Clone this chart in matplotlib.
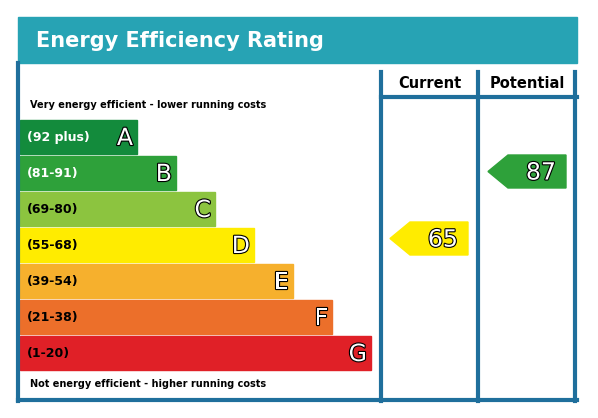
import matplotlib.pyplot as plt
from matplotlib.patches import Polygon, Rectangle
import matplotlib.patheffects as pe

letters = ['A', 'B', 'C', 'D', 'E', 'F', 'G']
ranges = ['(92 plus)', '(81-91)', '(69-80)', '(55-68)', '(39-54)', '(21-38)', '(1-20)']
lower = [92, 81, 69, 55, 39, 21, 1]
colors = ['#138b3c', '#2ea13a', '#8cc43f', '#ffec00', '#f6b02d', '#ec6f2a', '#e02027']
current = 65
potential = 87

frame = '#1f6f9c'
W, H = 598, 418

fig = plt.figure(figsize=(W / 100, H / 100), dpi=100)
ax = fig.add_axes([0, 0, 1, 1])
ax.set_xlim(0, W)
ax.set_ylim(H, 0)
ax.axis('off')

# title bar
ax.add_patch(Rectangle((18, 17), 559, 46, color='#27a3b4'))
ax.text(36, 41, 'Energy Efficiency Rating', color='white', fontsize=15,
        fontweight='bold', va='center', ha='left')

# frame lines
lw = 3
for x in [381, 478, 575]:
    ax.plot([x, x], [72, 401], color=frame, lw=lw)
ax.plot([18, 18], [63, 401], color=frame, lw=lw)
ax.plot([18, 577], [400, 400], color=frame, lw=lw)
ax.plot([381, 577], [97, 97], color=frame, lw=lw)
ax.text(430, 84, 'Current', fontsize=10.5, fontweight='bold', ha='center', va='center')
ax.text(527, 84, 'Potential', fontsize=10.5, fontweight='bold', ha='center', va='center')

ax.text(30, 105, 'Very energy efficient - lower running costs', fontsize=7,
        fontweight='bold', va='center')
ax.text(30, 384, 'Not energy efficient - higher running costs', fontsize=7,
        fontweight='bold', va='center')

outline = [pe.withStroke(linewidth=1.6, foreground='black')]
top0, step, bh = 120, 36, 34
for i, (let, rng, col) in enumerate(zip(letters, ranges, colors)):
    y = top0 + i * step
    right = 137 + i * 39
    ax.add_patch(Rectangle((20, y), right - 20, bh, color=col))
    tcol = 'white' if i in (0, 1) else 'black'
    ax.text(27, y + bh / 2, rng, fontsize=9, fontweight='bold', color=tcol, va='center')
    ax.text(right - 4, y + bh / 2 + 1, let, fontsize=17, color='white', ha='right',
            va='center', path_effects=outline)


def band_of(v):
    for i, lo in enumerate(lower):
        if v >= lo:
            return i
    return len(lower) - 1


def arrow(v, x0, x1, y):
    col = colors[band_of(v)]
    h = 33
    pts = [(x0, y + h / 2), (x0 + 20, y), (x1, y), (x1, y + h), (x0 + 20, y + h)]
    ax.add_patch(Polygon(pts, closed=True, color=col))
    ax.text((x0 + 20 + x1) / 2 + 4, y + h / 2 + 1, str(v), fontsize=17, color='white',
            ha='center', va='center', path_effects=outline)


arrow(current, 390, 468, 222)
arrow(potential, 488, 566, 155)

fig.savefig('out.png', dpi=100)
